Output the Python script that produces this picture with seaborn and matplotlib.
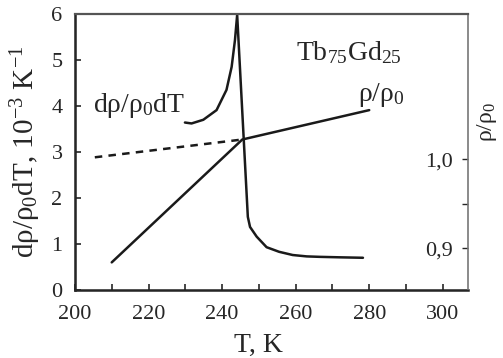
import seaborn as sns
import matplotlib.pyplot as plt
from matplotlib.ticker import MultipleLocator, FixedLocator, FixedFormatter

# dρ/ρ0dT curve (left axis, 10^-3 K^-1)
T_deriv = [229.9, 231.7, 234.9, 238.5, 241.2, 242.6, 243.5, 244.1, 247.0, 247.6,
           249.4, 252.1, 255.5, 259.2, 263.0, 266.6, 272.0, 278.3]
deriv = [3.64, 3.62, 3.70, 3.91, 4.35, 4.85, 5.43, 5.98, 1.59, 1.37,
         1.16, 0.93, 0.83, 0.76, 0.73, 0.72, 0.71, 0.70]

# ρ/ρ0 (right axis)
T_rho = [210.0, 245.5, 280.0]
rho = [0.884, 1.022, 1.055]
T_rho_ext = [205.4, 245.5]
rho_ext = [1.002, 1.022]

sns.set_style("ticks")
plt.rcParams['font.family'] = ['Liberation Serif', 'DejaVu Serif']
plt.rcParams['mathtext.fontset'] = 'custom'
plt.rcParams['mathtext.rm'] = 'Liberation Serif'
plt.rcParams['mathtext.default'] = 'rm'

fig = plt.figure(figsize=(5.03, 3.58), dpi=100)
ax = fig.add_axes([0.149, 0.19, 0.781, 0.771])
ax2 = ax.twinx()

lc = '#1a1a1a'
sns.lineplot(x=T_deriv, y=deriv, ax=ax, color=lc, lw=1.8, sort=False)
sns.lineplot(x=T_rho, y=rho, ax=ax2, color=lc, lw=1.8)
sns.lineplot(x=T_rho_ext, y=rho_ext, ax=ax2, color=lc, lw=1.8)
ax2.lines[-1].set_linestyle((0, (3, 2.5)))

ax.set_xlim(200, 306.8)
ax.set_ylim(0, 6)
ax2.set_ylim(0.853, 1.163)

ax.xaxis.set_major_locator(MultipleLocator(20))
ax.xaxis.set_minor_locator(MultipleLocator(10))
ax.yaxis.set_major_locator(MultipleLocator(1))
ax.tick_params(axis='both', which='both', direction='in', labelsize=16, length=4, width=1.2)
ax.tick_params(axis='y', pad=9)
ax.tick_params(axis='x', pad=11)

ax2.yaxis.set_major_locator(FixedLocator([0.9, 1.0]))
ax2.yaxis.set_major_formatter(FixedFormatter(['0,9', '1,0']))
ax2.yaxis.set_minor_locator(FixedLocator([0.95]))
ax2.tick_params(axis='y', which='both', direction='in', length=4, width=1, labelsize=16, pad=-11)
for lab in ax2.get_yticklabels():
    lab.set_horizontalalignment('right')

for s in ['left', 'bottom']:
    ax.spines[s].set_linewidth(1.8)
    ax.spines[s].set_color('#222222')
ax2.spines['right'].set_color('#777777')
ax2.spines['right'].set_linewidth(1.2)
ax2.spines['top'].set_color('#555555')
ax2.spines['top'].set_linewidth(1.6)
ax.spines['top'].set_visible(False)
ax.spines['right'].set_visible(False)

ax.set_xlabel('T, K', fontsize=20)
ax.xaxis.set_label_coords(0.466, -0.155)
ax.set_ylabel('dρ/ρ$_0$dT, 10$^{-3}$ K$^{-1}$', fontsize=21, labelpad=6)
ax2.set_ylabel('ρ/ρ$_0$', fontsize=17)
ax2.yaxis.set_label_coords(1.018, 0.61)

ax.text(217.5, 4.0, 'dρ/ρ$_0$dT', fontsize=20, ha='center', va='center')
ax.text(274.5, 5.15, 'Tb$_{75}$Gd$_{25}$', fontsize=20, ha='center', va='center')
ax.text(283.4, 4.24, 'ρ/ρ$_0$', fontsize=20, ha='center', va='center')

fig.savefig('out.png', dpi=100)
